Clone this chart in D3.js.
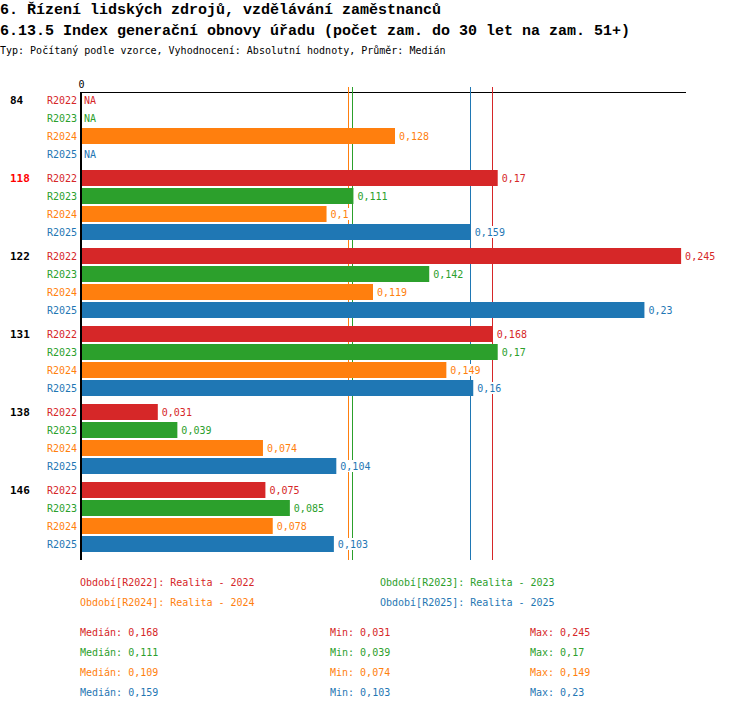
<!DOCTYPE html>
<html>
<head>
<meta charset="utf-8">
<script src="https://cdn.jsdelivr.net/npm/d3@7"></script>
<style>
  body { margin: 0; background: #fff; }
  svg text { font-family: "DejaVu Sans Mono", monospace; }
  svg text.title { font-family: "Liberation Mono", "DejaVu Sans Mono", monospace; }
</style>
</head>
<body>
<div id="chart"></div>
<script>
// data
const categories = ["84", "118", "122", "131", "138", "146"];
const highlighted = "118";
const seriesNames = ["R2022", "R2023", "R2024", "R2025"];
const seriesLegend = ["Realita - 2022", "Realita - 2023", "Realita - 2024", "Realita - 2025"];
const seriesColors = ["#d62728", "#2ca02c", "#ff7f0e", "#1f77b4"];
const valuesR2022 = [null, 0.17, 0.245, 0.168, 0.031, 0.075];
const valuesR2023 = [null, 0.111, 0.142, 0.17, 0.039, 0.085];
const valuesR2024 = [0.128, 0.1, 0.119, 0.149, 0.074, 0.078];
const valuesR2025 = [null, 0.159, 0.23, 0.16, 0.104, 0.103];
const medians = [0.168, 0.111, 0.109, 0.159];
const mins = [0.031, 0.039, 0.074, 0.103];
const maxs = [0.245, 0.17, 0.149, 0.23];

const allValues = [valuesR2022, valuesR2023, valuesR2024, valuesR2025];

const width = 750, height = 710;
const svg = d3.select("#chart").append("svg")
    .attr("width", width)
    .attr("height", height);

// čísla s desetinnou čárkou
const fmt = v => String(+v.toFixed(3)).replace(".", ",");

// titulky
svg.append("text").attr("class", "title").attr("x", 0).attr("y", 14)
    .attr("font-size", 15).attr("font-weight", "bold")
    .text("6. Řízení lidských zdrojů, vzdělávání zaměstnanců");
svg.append("text").attr("class", "title").attr("x", 0).attr("y", 35)
    .attr("font-size", 15).attr("font-weight", "bold")
    .text("6.13.5 Index generační obnovy úřadu (počet zam. do 30 let na zam. 51+)");
svg.append("text").attr("x", 0).attr("y", 54)
    .attr("font-size", 10)
    .text("Typ: Počítaný podle vzorce, Vyhodnocení: Absolutní hodnoty, Průměr: Medián");

// škály
const x = d3.scaleLinear().domain([0, 0.247]).range([82, 686]);
const y0 = d3.scaleBand().domain(categories).range([92, 560]);
const y1 = d3.scaleBand().domain(seriesNames).range([0, 72]);
const barH = y1.bandwidth() - 2;

// osa nahoře
const axis = svg.append("g")
    .attr("transform", "translate(0,92)")
    .call(d3.axisTop(x).tickValues([0]).tickFormat(d3.format("d"))
        .tickSizeInner(0).tickSizeOuter(0).tickPadding(4));
axis.select(".domain").remove();
axis.selectAll("text").attr("font-family", "DejaVu Sans Mono").attr("font-size", 10)
    .attr("fill", "#000").attr("x", -1);
svg.append("line")
    .attr("x1", 81).attr("x2", 686)
    .attr("y1", 92.5).attr("y2", 92.5)
    .attr("stroke", "#000").attr("stroke-width", 1);

// mediány
svg.append("g").selectAll("line")
    .data(medians)
    .join("line")
    .attr("x1", d => Math.round(x(d)) - 0.5)
    .attr("x2", d => Math.round(x(d)) - 0.5)
    .attr("y1", 87)
    .attr("y2", 560)
    .attr("stroke", (d, i) => seriesColors[i])
    .attr("stroke-width", 1);

// skupiny
const rows = [];
categories.forEach((c, ci) => {
    seriesNames.forEach((s, si) => {
        rows.push({ cat: c, ser: s, si: si, value: allValues[si][ci] });
    });
});

const row = svg.append("g").selectAll("g")
    .data(rows)
    .join("g")
    .attr("transform", d => `translate(0,${y0(d.cat) + y1(d.ser)})`);

row.filter(d => d.value != null)
    .append("rect")
    .attr("x", x(0))
    .attr("y", 0)
    .attr("width", d => x(d.value) - x(0))
    .attr("height", barH)
    .attr("fill", d => seriesColors[d.si]);

row.append("text")
    .attr("x", 77)
    .attr("y", barH / 2)
    .attr("dy", "0.35em")
    .attr("text-anchor", "end")
    .attr("font-size", 10)
    .attr("fill", d => seriesColors[d.si])
    .text(d => d.ser);

// popisky hodnot s bílým pozadím
const valLabel = row.append("g")
    .attr("transform", d => `translate(${d.value != null ? x(d.value) + 4 : 84},${barH / 2})`);
valLabel.append("rect").attr("fill", "#fff");
const valText = valLabel.append("text")
    .attr("dy", "0.35em")
    .attr("font-size", 10)
    .attr("fill", d => seriesColors[d.si])
    .text(d => d.value != null ? fmt(d.value) : "NA");
valText.each(function () {
    const w = this.getComputedTextLength();
    d3.select(this.previousSibling)
        .attr("x", -1).attr("y", -6).attr("width", w + 2).attr("height", 12);
});

// svislá osa
svg.append("line")
    .attr("x1", 81).attr("x2", 81)
    .attr("y1", 92).attr("y2", 560)
    .attr("stroke", "#000").attr("stroke-width", 2);

// popisky kategorií
svg.append("g").selectAll("text")
    .data(categories)
    .join("text")
    .attr("x", 10)
    .attr("y", d => y0(d) + barH / 2)
    .attr("dy", "0.35em")
    .attr("font-size", 11)
    .attr("font-weight", "bold")
    .attr("fill", d => d === highlighted ? "#ff0000" : "#000")
    .text(d => d);

// legenda
const legX = [80, 380];
const legY = [582, 602];
svg.append("g").selectAll("text")
    .data(seriesNames)
    .join("text")
    .attr("x", (d, i) => legX[i % 2])
    .attr("y", (d, i) => legY[Math.floor(i / 2)])
    .attr("dy", "0.35em")
    .attr("font-size", 10)
    .attr("fill", (d, i) => seriesColors[i])
    .text((d, i) => `Období[${d}]: ${seriesLegend[i]}`);

// statistiky
const statY = [632, 652, 672, 692];
const statCols = [
    { x: 80, label: "Medián: ", vals: medians },
    { x: 330, label: "Min: ", vals: mins },
    { x: 530, label: "Max: ", vals: maxs }
];
statCols.forEach(col => {
    svg.append("g").selectAll("text")
        .data(col.vals)
        .join("text")
        .attr("x", col.x)
        .attr("y", (d, i) => statY[i])
        .attr("dy", "0.35em")
        .attr("font-size", 10)
        .attr("fill", (d, i) => seriesColors[i])
        .text(d => col.label + fmt(d));
});
</script>
</body>
</html>
